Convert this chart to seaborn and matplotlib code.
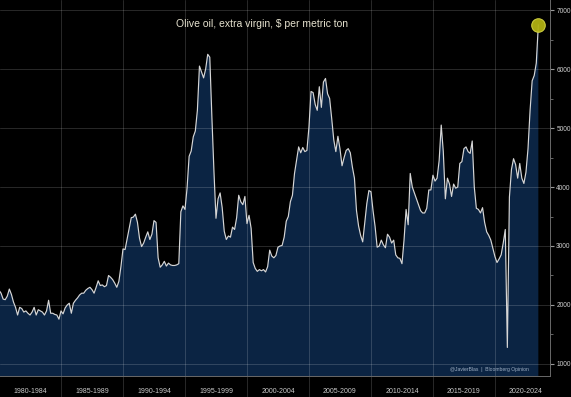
import numpy as np
import pandas as pd
import matplotlib
matplotlib.use("Agg")
import matplotlib.pyplot as plt
import seaborn as sns

# Olive oil, extra virgin, $ per metric ton (bimonthly readings, Jan 1980 - Jul 2023)
price = [
    2250, 2200, 2100, 2090, 2150, 2270,  # 1980
    2180, 2050, 1960, 1830, 1960, 1940,  # 1981
    1880, 1900, 1860, 1830, 1880, 1960,  # 1982
    1830, 1920, 1900, 1880, 1830, 1900,  # 1983
    2080, 1860, 1860, 1840, 1830, 1760,  # 1984
    1900, 1850, 1950, 2000, 2030, 1860,  # 1985
    2030, 2080, 2120, 2170, 2200, 2200,  # 1986
    2250, 2280, 2300, 2260, 2200, 2300,  # 1987
    2410, 2330, 2340, 2310, 2330, 2500,  # 1988
    2470, 2430, 2370, 2300, 2400, 2650,  # 1989
    2950, 2940, 3120, 3300, 3480, 3490,  # 1990
    3540, 3400, 3130, 2990, 3050, 3150,  # 1991
    3240, 3110, 3200, 3430, 3400, 2800,  # 1992
    2640, 2680, 2740, 2660, 2710, 2680,  # 1993
    2670, 2670, 2680, 2700, 3580, 3680,  # 1994
    3620, 3980, 4520, 4610, 4850, 4950,  # 1995
    5300, 6050, 5950, 5850, 6000, 6250,  # 1996
    6200, 5200, 4280, 3470, 3800, 3900,  # 1997
    3650, 3250, 3110, 3170, 3150, 3320,  # 1998
    3280, 3480, 3860, 3750, 3700, 3840,  # 1999
    3380, 3520, 3300, 2720, 2620, 2570,  # 2000
    2600, 2580, 2600, 2560, 2650, 2930,  # 2001
    2830, 2800, 2840, 2980, 3000, 3010,  # 2002
    3150, 3420, 3500, 3750, 3860, 4230,  # 2003
    4450, 4680, 4580, 4670, 4600, 4620,  # 2004
    5020, 5620, 5600, 5400, 5300, 5700,  # 2005
    5350, 5780, 5840, 5580, 5500, 5160,  # 2006
    4800, 4600, 4860, 4650, 4360, 4500,  # 2007
    4620, 4650, 4580, 4340, 4150, 3600,  # 2008
    3340, 3180, 3070, 3400, 3720, 3940,  # 2009
    3920, 3600, 3330, 2980, 3000, 3100,  # 2010
    3020, 2970, 3200, 3150, 3050, 3100,  # 2011
    2850, 2800, 2790, 2700, 3100, 3620,  # 2012
    3360, 4230, 4000, 3900, 3800, 3700,  # 2013
    3600, 3560, 3560, 3640, 3950, 3950,  # 2014
    4200, 4100, 4150, 4450, 5050, 4600,  # 2015
    3800, 4150, 4050, 3840, 4050, 3980,  # 2016
    4000, 4400, 4430, 4650, 4680, 4600,  # 2017
    4570, 4780, 4000, 3640, 3620, 3560,  # 2018
    3650, 3400, 3240, 3180, 3100, 2960,  # 2019
    2820, 2720, 2780, 2850, 3050, 3280,  # 2020
    1280, 3830, 4300, 4480, 4380, 4150,  # 2021
    4400, 4150, 4060, 4250, 4650, 5300,  # 2022
    5800, 5890, 6100, 6750,              # 2023
]
dates = pd.date_range("1980-01-01", periods=len(price), freq="2MS")
period_labels = ["1980-1984", "1985-1989", "1990-1994", "1995-1999", "2000-2004",
                 "2005-2009", "2010-2014", "2015-2019", "2020-2024"]
y_ticks = [1000, 2000, 3000, 4000, 5000, 6000, 7000]

df = pd.DataFrame({"date": dates, "price": price})
df["year"] = df["date"].dt.year + (df["date"].dt.month - 1) / 12

sns.set_style("dark", {"axes.facecolor": "black", "figure.facecolor": "black"})
plt.rcParams["font.family"] = ["Liberation Sans", "DejaVu Sans"]

fig = plt.figure(figsize=(5.71, 3.97), dpi=100)
ax = fig.add_axes([0, 0.053, 550 / 571, 0.947])

ax.fill_between(df["year"], df["price"], 0, color="#0b2443", lw=0, zorder=1)

# grid sits over the fill, faintly
grid_c = (1, 1, 1, 0.16)
for v in y_ticks:
    ax.axhline(v, color=grid_c, lw=0.7, zorder=1.5)
for yr in range(1985, 2025, 5):
    ax.axvline(yr, ymin=-0.06, ymax=1, color=grid_c, lw=0.7, zorder=1.5, clip_on=False)

sns.lineplot(data=df, x="year", y="price", color="#d6d6d6", lw=0.85, ax=ax, zorder=2)

# last point marker
last = df.iloc[-1]
ax.scatter([last["year"]], [last["price"]], s=95, color="#b0b012",
           edgecolor="#d0d040", lw=0.8, alpha=0.95, zorder=3)

ax.set_xlim(1980.08, 2024.44)
ax.set_ylim(797, 7170)

ax.set_xticks([1982.5 + 5 * i for i in range(len(period_labels))], period_labels)
ax.set_xticks(range(1981, 2025), minor=True)
ax.tick_params(axis="x", which="major", length=0, pad=9, labelsize=5, labelcolor="#c9c9c9")
ax.tick_params(axis="x", which="minor", length=2.5, color="#888888", direction="out")

ax.yaxis.tick_right()
ax.set_yticks(y_ticks)
ax.set_yticks(range(1500, 7000, 1000), minor=True)
ax.tick_params(axis="y", which="major", length=3, color="#999999", pad=1.5,
               labelsize=4.7, labelcolor="#d0d0d0")
ax.tick_params(axis="y", which="minor", length=2, color="#777777")

ax.set_xlabel("")
ax.set_ylabel("")
for side in ["top", "left"]:
    ax.spines[side].set_visible(False)
for side in ["right", "bottom"]:
    ax.spines[side].set_color("#6a6a6a")
    ax.spines[side].set_linewidth(0.7)

fig.text(262 / 571, 1 - 24 / 397, "Olive oil, extra virgin, $ per metric ton",
         color="#e6e2cf", fontsize=7.5, ha="center", va="center")
fig.text(529 / 571, 1 - 369 / 397, "@JavierBlas  |  Bloomberg Opinion",
         color="#9fb0c4", fontsize=3.6, ha="right", va="center")

fig.savefig("out.png", dpi=100, facecolor="black")
